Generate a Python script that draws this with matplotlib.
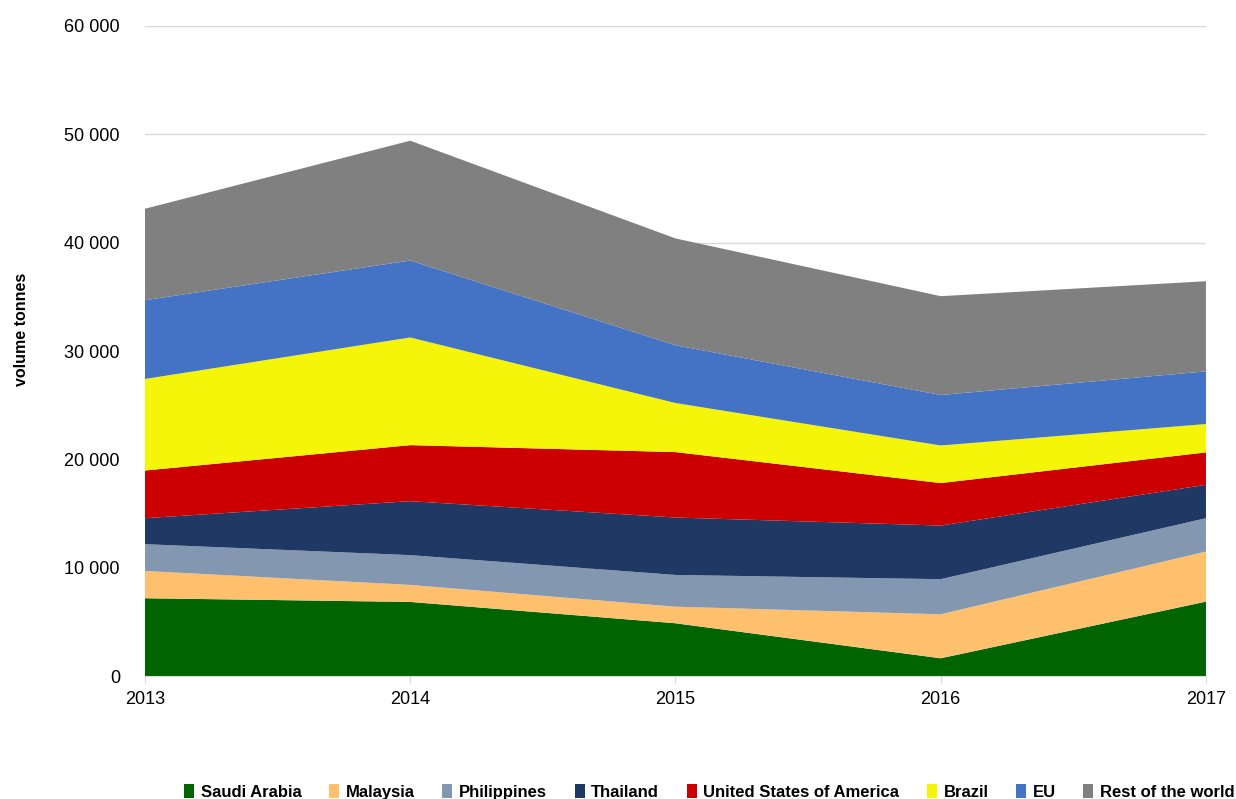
import matplotlib
matplotlib.use("Agg")
import matplotlib.pyplot as plt
import numpy as np

years = [2013, 2014, 2015, 2016, 2017]
series_names = ["Saudi Arabia", "Malaysia", "Philippines", "Thailand",
                "United States of America", "Brazil", "EU", "Rest of the world"]
saudi_arabia = [7180, 6840, 4870, 1640, 6870]
malaysia = [2520, 1570, 1530, 4060, 4620]
philippines = [2470, 2750, 2930, 3240, 3080]
thailand = [2400, 4980, 5300, 4950, 3080]
usa = [4400, 5170, 6040, 3920, 2990]
brazil = [8450, 9940, 4530, 3470, 2620]
eu = [7270, 7100, 5330, 4660, 4860]
rest_of_world = [8440, 11060, 9860, 9120, 8320]
yticks = [0, 10000, 20000, 30000, 40000, 50000, 60000]

colors = ["#006400", "#FFC06E", "#8497B0", "#203864", "#CC0000",
          "#F5F50A", "#4472C4", "#808080"]

plt.rcParams["font.family"] = ["Liberation Sans", "DejaVu Sans"]

fig = plt.figure(figsize=(12.36, 7.99), dpi=100)
ax = fig.add_axes([0.1173, 0.1539, 0.9757 - 0.1173, 0.9675 - 0.1539])

data = [saudi_arabia, malaysia, philippines, thailand, usa, brazil, eu, rest_of_world]
ax.stackplot(years, *data, labels=series_names, colors=colors, linewidth=0, zorder=2)

ax.set_xlim(years[0], years[-1])
ax.set_ylim(0, 60000)
ax.set_yticks(yticks)
ax.set_yticklabels([f"{v:,}".replace(",", " ") for v in yticks], fontsize=13)
ax.set_xticks(years)
ax.set_xticklabels([str(y) for y in years], fontsize=13)

ax.grid(axis="y", color="#d9d9d9", linewidth=1, zorder=0)
ax.set_axisbelow(True)
for side in ["top", "right", "left"]:
    ax.spines[side].set_visible(False)
ax.spines["bottom"].set_color("#d9d9d9")
ax.spines["bottom"].set_zorder(3)
ax.tick_params(axis="y", length=0, pad=18)
ax.tick_params(axis="x", length=5, color="#d9d9d9", pad=6)

fig.text(0.017, 0.588, "volume tonnes", rotation=90, ha="center", va="center",
         fontsize=11.5, fontweight="bold")

handles, labels = ax.get_legend_handles_labels()
leg = fig.legend(handles, labels, loc="lower center", bbox_to_anchor=(0.574, -0.02),
                 ncol=8, frameon=False, handlelength=0.6, handleheight=0.9,
                 handletextpad=0.4, columnspacing=1.65,
                 prop={"weight": "bold", "size": 12})

fig.savefig("out.png", dpi=100)
